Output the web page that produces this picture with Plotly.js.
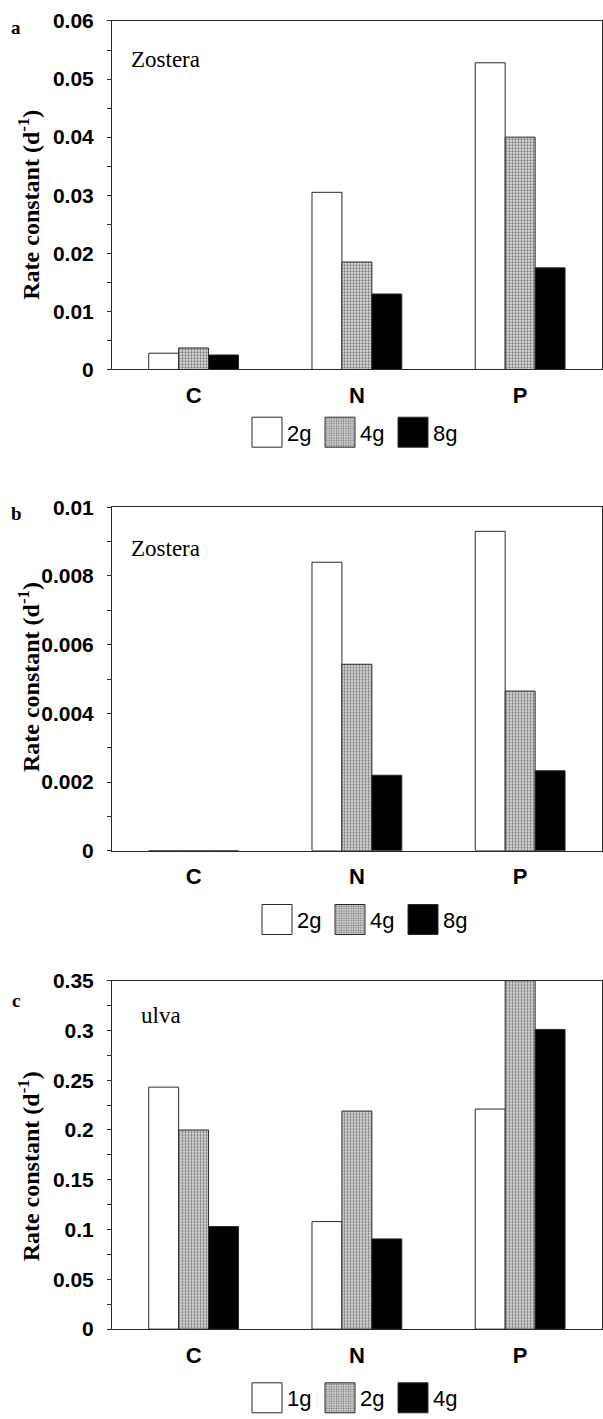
<!DOCTYPE html>
<html>
<head>
<meta charset="utf-8">
<script src="https://cdn.plot.ly/plotly-3.0.1.min.js"></script>
<style>html,body{margin:0;padding:0;background:#fff;}#chart{width:603px;height:1419px;}</style>
</head>
<body>
<div id="chart"></div>
<script>
// ---- data ----
const categories = ['C', 'N', 'P'];

const panelA_names = ['2g', '4g', '8g'];
const panelA_2g = [0.0028, 0.0305, 0.0528];
const panelA_4g = [0.0037, 0.0185, 0.0400];
const panelA_8g = [0.0025, 0.0130, 0.0175];
const panelA_ticks = [0, 0.01, 0.02, 0.03, 0.04, 0.05, 0.06];
const panelA_tickText = ['0', '0.01', '0.02', '0.03', '0.04', '0.05', '0.06'];

const panelB_names = ['2g', '4g', '8g'];
const panelB_2g = [0, 0.0084, 0.0093];
const panelB_4g = [0, 0.00543, 0.00465];
const panelB_8g = [0, 0.0022, 0.00233];
const panelB_ticks = [0, 0.002, 0.004, 0.006, 0.008, 0.01];
const panelB_tickText = ['0', '0.002', '0.004', '0.006', '0.008', '0.01'];

const panelC_names = ['1g', '2g', '4g'];
const panelC_1g = [0.243, 0.108, 0.221];
const panelC_2g = [0.200, 0.219, 0.350];
const panelC_4g = [0.103, 0.0906, 0.301];
const panelC_ticks = [0, 0.05, 0.1, 0.15, 0.2, 0.25, 0.3, 0.35];
const panelC_tickText = ['0', '0.05', '0.1', '0.15', '0.2', '0.25', '0.3', '0.35'];

const panelLetters = ['a', 'b', 'c'];
const panelLabels = ['Zostera', 'Zostera', 'ulva'];
const yTitle = 'Rate constant (d<sup>-1</sup>)';

// ---- styles ----
const W = 603, H = 1419;
const lineCol = '#2a2a2a';
const styles = [
  {color: '#ffffff'},
  {color: '#bdbdbd', pattern: {shape: '.', fgcolor: '#7a7a7a', bgcolor: '#e2e2e2', size: 3, solidity: 0.45}},
  {color: '#000000'}
];
const px = v => v / W;
const py = v => 1 - v / H;

const panels = [
  {series: [panelA_2g, panelA_4g, panelA_8g], names: panelA_names, ticks: panelA_ticks, tickText: panelA_tickText,
   range: [0, 0.06], minor: 0.005, top: 21, bottom: 370, legendY: 433},
  {series: [panelB_2g, panelB_4g, panelB_8g], names: panelB_names, ticks: panelB_ticks, tickText: panelB_tickText,
   range: [0, 0.01], minor: 0.001, top: 508, bottom: 852, legendY: 921},
  {series: [panelC_1g, panelC_2g, panelC_4g], names: panelC_names, ticks: panelC_ticks, tickText: panelC_tickText,
   range: [0, 0.35], minor: 0.025, top: 982, bottom: 1331, legendY: 1400}
];
const legendX = [252, 262, 252];
const labelX = [129, 129, 139];
const labelY = [60, 549, 1017];
const letterY = [28, 514, 1002];
const titleY = [205, 678, 1168];

const traces = [];
const layout = {
  width: W, height: H,
  margin: {l: 0, r: 0, t: 0, b: 0},
  paper_bgcolor: '#fff', plot_bgcolor: '#fff',
  barmode: 'group', bargap: 0.45, bargroupgap: 0,
  font: {family: 'Liberation Sans, Arial, sans-serif', color: '#000'},
  annotations: [],
  showlegend: true
};

panels.forEach((p, i) => {
  const sfx = i === 0 ? '' : String(i + 1);
  const legendKey = i === 0 ? 'legend' : 'legend' + (i + 1);
  p.series.forEach((vals, j) => {
    const m = {color: styles[j].color, line: {color: lineCol, width: 1}};
    if (styles[j].pattern) m.pattern = styles[j].pattern;
    traces.push({
      type: 'bar', x: categories, y: vals, name: p.names[j],
      xaxis: 'x' + sfx, yaxis: 'y' + sfx, legend: legendKey,
      marker: m, hoverinfo: 'skip'
    });
  });
  layout['xaxis' + sfx] = {
    domain: [0.1857, 0.998], anchor: 'y' + sfx,
    type: 'category', range: [-0.5, 2.5],
    showline: true, linecolor: lineCol, linewidth: 1, mirror: true,
    ticks: '', showgrid: false, zeroline: false,
    tickfont: {family: 'Liberation Sans, Arial, sans-serif', size: 22, weight: 'bold', color: '#000'},
    ticklabelstandoff: 6
  };
  layout['yaxis' + sfx] = {
    domain: [py(p.bottom), py(p.top)], anchor: 'x' + sfx,
    range: p.range, showline: true, linecolor: lineCol, linewidth: 1, mirror: true,
    showgrid: false, zeroline: false,
    tickmode: 'array', tickvals: p.ticks, ticktext: p.tickText,
    ticks: 'outside', ticklen: 4, tickcolor: lineCol,
    minor: {dtick: p.minor, ticks: 'outside', ticklen: 4, tickcolor: lineCol, showgrid: false},
    tickfont: {family: 'Liberation Sans, Arial, sans-serif', size: 21, weight: 'bold', color: '#000'},
    ticklabelstandoff: 9
  };
  layout[legendKey] = {
    orientation: 'h', x: px(legendX[i] - 5), xanchor: 'left', y: py(p.legendY), yanchor: 'middle',
    bgcolor: 'rgba(0,0,0,0)', borderwidth: 0,
    entrywidth: 28, entrywidthmode: 'pixels',
    font: {family: 'Liberation Sans, Arial, sans-serif', size: 22, color: '#000'},
    itemclick: false, itemdoubleclick: false
  };
  layout.annotations.push({
    xref: 'paper', yref: 'paper', x: px(29), y: py(titleY[i]), xanchor: 'center', yanchor: 'middle',
    text: '<b>' + yTitle + '</b>', textangle: -90, showarrow: false,
    font: {family: 'Liberation Serif, Times New Roman, serif', size: 24, color: '#000'}
  });
  layout.annotations.push({
    xref: 'paper', yref: 'paper', x: px(16), y: py(letterY[i]), xanchor: 'center', yanchor: 'middle',
    text: '<b>' + panelLetters[i] + '</b>', showarrow: false,
    font: {family: 'Liberation Serif, Times New Roman, serif', size: 19, color: '#000'}
  });
  layout.annotations.push({
    xref: 'paper', yref: 'paper', x: px(labelX[i]), y: py(labelY[i]), xanchor: 'left', yanchor: 'middle',
    text: panelLabels[i], showarrow: false,
    font: {family: 'Liberation Serif, Times New Roman, serif', size: 23, color: '#000'}
  });
});

Plotly.newPlot('chart', traces, layout, {staticPlot: true}).then(gd => {
  // enlarge legend swatches to match the reference's large key boxes
  gd.querySelectorAll('.legendpoints path').forEach(p => p.setAttribute('d', 'M15,15H-15V-15H15Z'));
  // drop empty placeholder text nodes (unused axis titles)
  gd.querySelectorAll('text').forEach(t => { if (!t.textContent.trim()) t.remove(); });
});
</script>
</body>
</html>
